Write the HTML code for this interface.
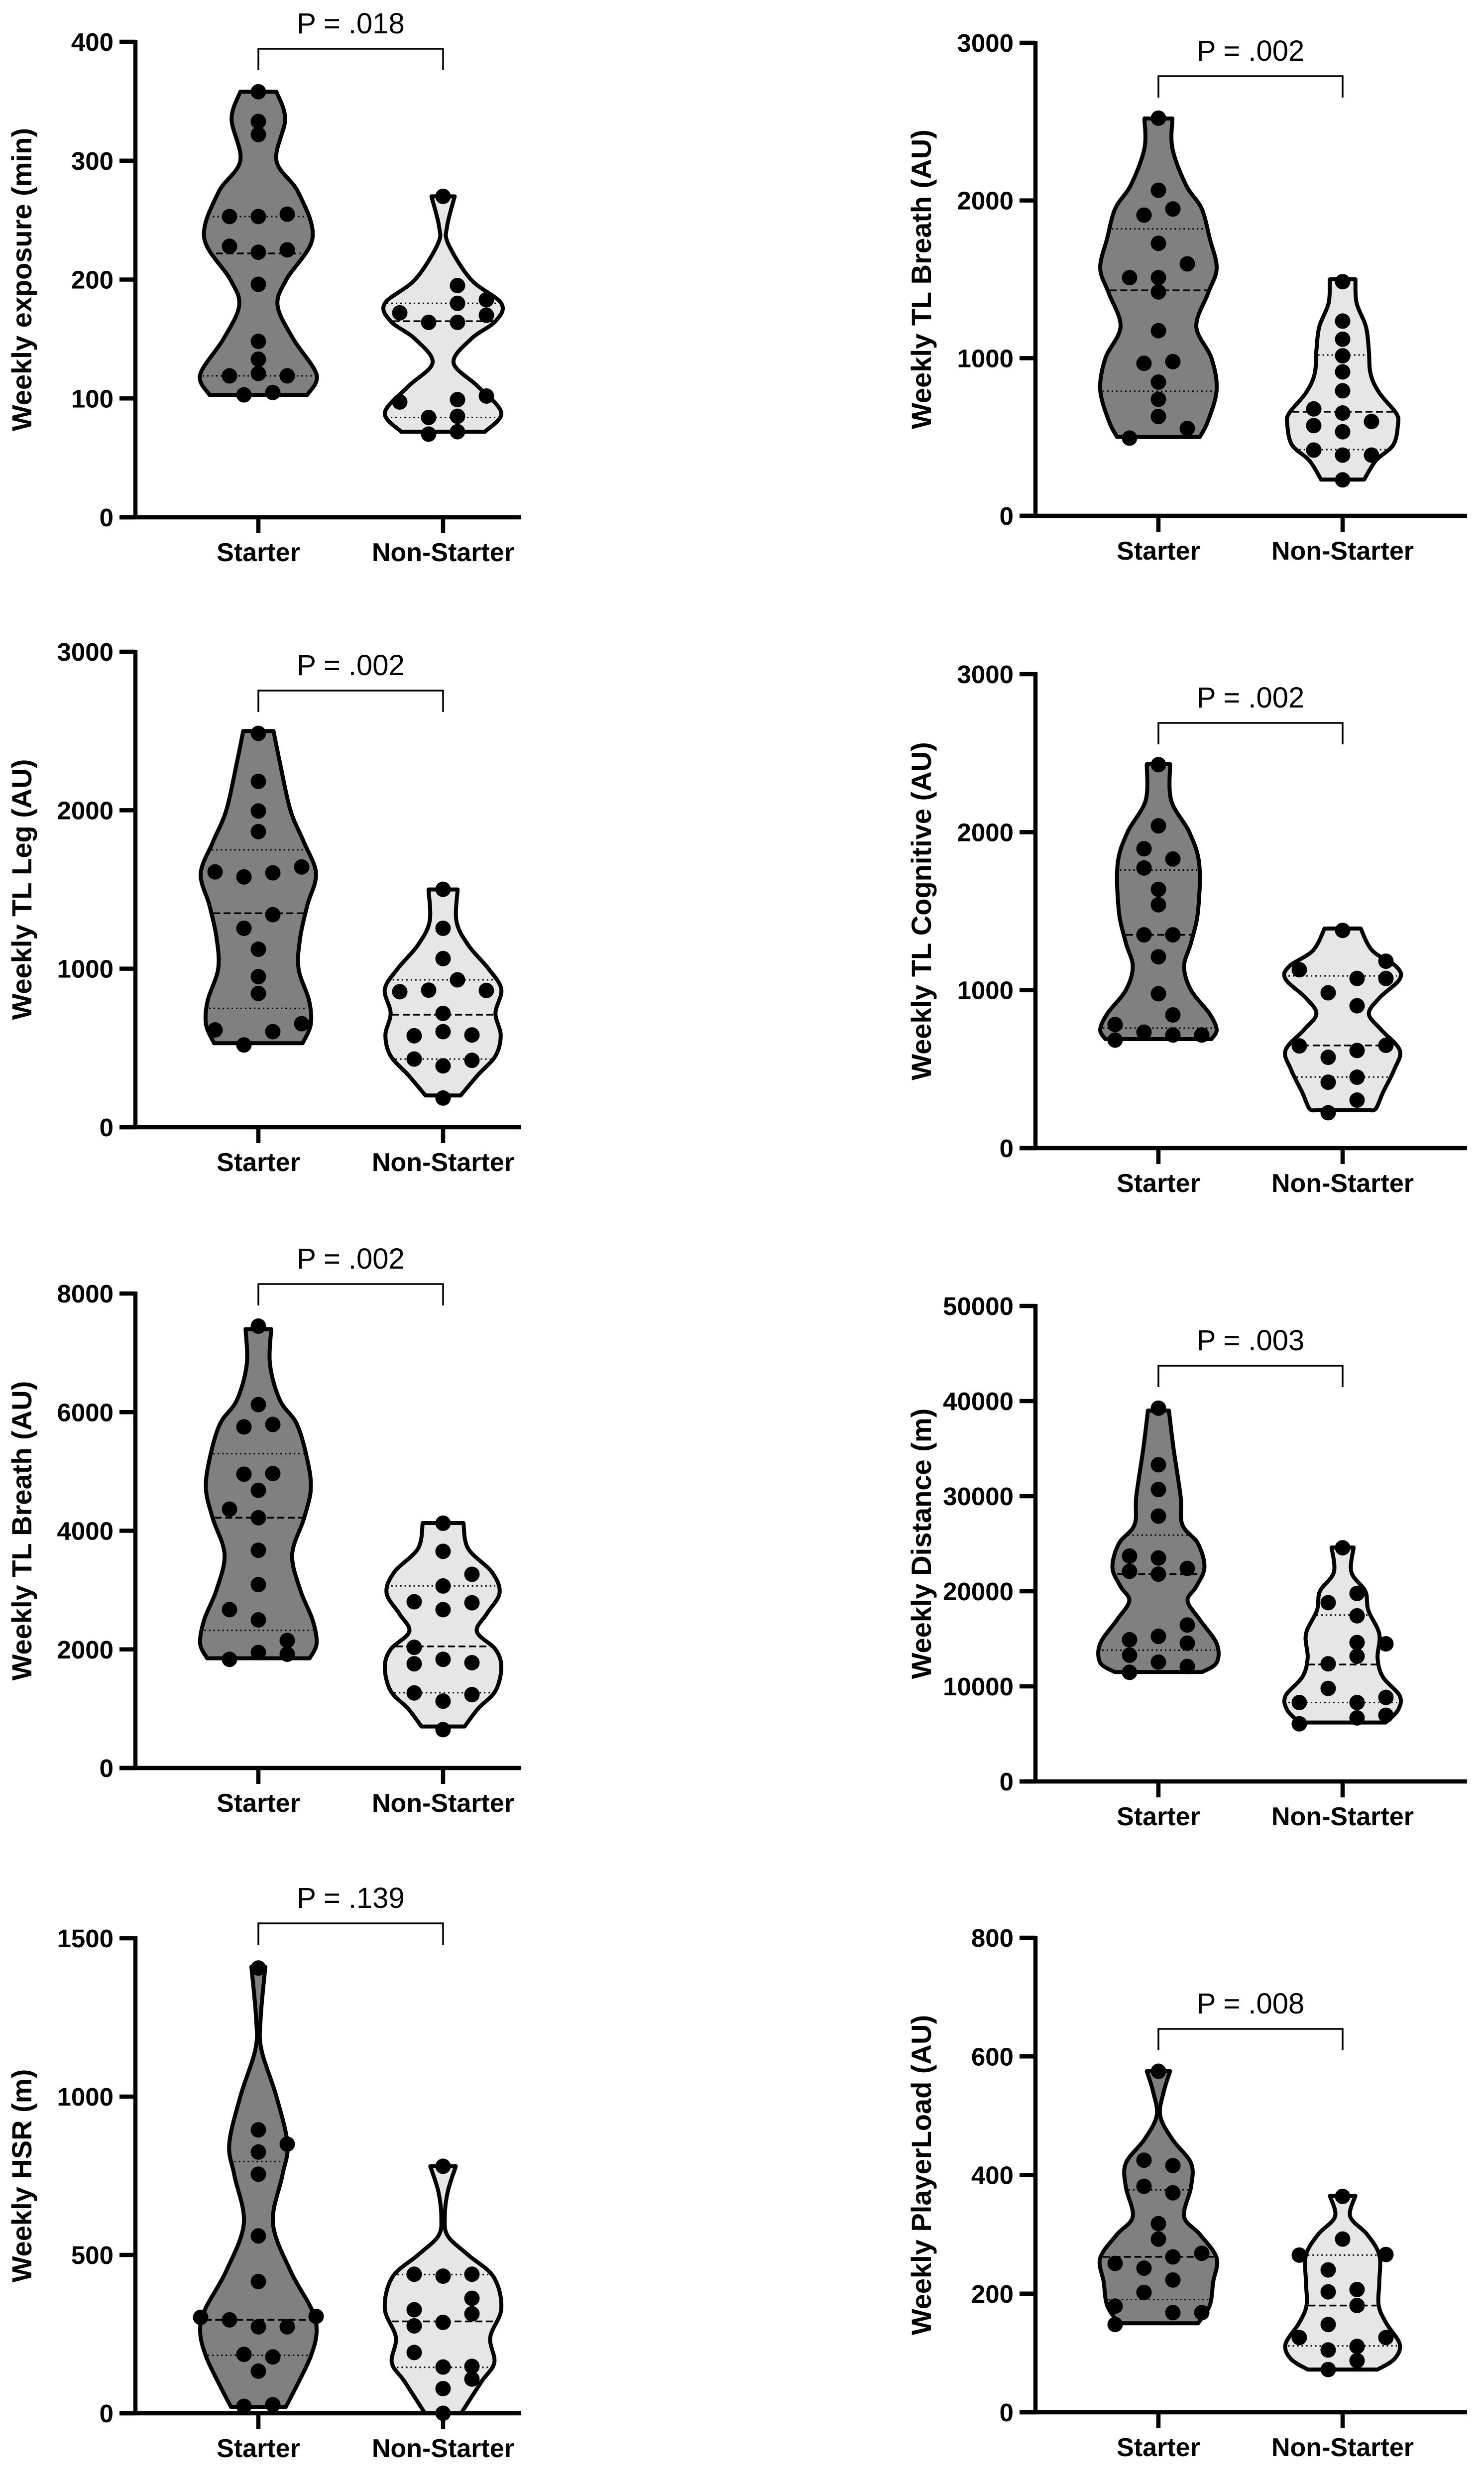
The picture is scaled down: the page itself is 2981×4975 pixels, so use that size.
<!DOCTYPE html>
<html><head><meta charset="utf-8"><title>Starter vs Non-Starter violin plots</title>
<style>html,body{margin:0;padding:0;background:#fff}svg{display:block}</style></head>
<body>
<svg id="chart" xmlns="http://www.w3.org/2000/svg" width="2981" height="4975" viewBox="0 0 2981 4975"></svg>
<script>
// ---------- DATA ----------
const groupLabels = ["Starter", "Non-Starter"];

const exposureTicks = [0, 100, 200, 300, 400];
const exposureStarterPoints = [358,333,322,253,253,255,228,223,225,196,148,133,121,119,119,103,105];
const exposureStarterJitter = [0,0,0,-2,0,2,-2,0,2,0,0,0,0,-2,2,-1,1];
const exposureStarterProfileV = [358,335,300,273,235,200,178,150,120,103];
const exposureStarterProfileW = [0.31,0.46,0.31,0.69,0.93,0.48,0.33,0.6,1.0,0.84];
const exposureStarterQuart = [119,222,253];
const exposureNonPoints = [270,195,183,180,172,170,164,164,102,97,99,84,85,70,72];
const exposureNonJitter = [0,1,3,1,-3,3,-1,1,3,-3,1,-1,1,-1,1];
const exposureNonProfileV = [270,245,230,200,180,165,150,130,110,88,72];
const exposureNonProfileW = [0.2,0.07,0.09,0.48,1.0,0.9,0.48,0.18,0.6,1.0,0.72];
const exposureNonQuart = [84,165,180];

const breathTicks = [0, 1000, 2000, 3000];
const breathStarterPoints = [2522,2065,1907,1946,1728,1598,1511,1511,1420,1174,967,978,848,739,630,554,493];
const breathStarterJitter = [0,0,-1,1,0,2,-2,0,0,0,-1,1,0,0,0,2,-2];
const breathStarterProfileV = [2520,2330,2100,1950,1760,1570,1410,1200,1000,800,600,500];
const breathStarterProfileW = [0.24,0.24,0.47,0.74,0.88,1.0,0.85,0.65,0.91,1.0,0.85,0.71];
const breathStarterQuart = [790,1430,1820];
const breathNonPoints = [1485,1235,1120,1015,913,793,678,652,598,572,533,417,385,385,228];
const breathNonJitter = [0,0,0,0,0,0,-2,0,2,-2,0,-2,0,2,0];
const breathNonProfileV = [1500,1350,1200,1050,900,780,650,580,450,350,230];
const breathNonProfileW = [0.22,0.24,0.4,0.45,0.48,0.63,0.92,0.95,0.87,0.57,0.37];
const breathNonQuart = [420,660,1020];

const legTicks = [0, 1000, 2000, 3000];
const legStarterPoints = [2485,2182,1995,1865,1611,1579,1605,1642,1341,1255,1123,950,844,614,519,603,653];
const legStarterJitter = [0,0,0,0,-3,-1,1,3,1,-1,0,0,0,-3,-1,1,3];
const legStarterProfileV = [2500,2300,2000,1800,1600,1400,1200,1000,800,650,530];
const legStarterProfileW = [0.26,0.37,0.55,0.78,0.99,0.84,0.72,0.69,0.87,0.9,0.76];
const legStarterQuart = [750,1350,1750];
const legNonPoints = [1501,1255,1064,930,865,855,863,718,603,577,582,430,422,387,184];
const legNonJitter = [0,0,0,1,-1,-3,3,0,0,-2,2,-2,2,0,0];
const legNonProfileV = [1500,1300,1150,1000,870,720,580,450,330,200];
const legNonProfileW = [0.25,0.23,0.43,0.78,1.0,0.9,0.99,0.9,0.6,0.3];
const legNonQuart = [430,710,930];

const cognitiveTicks = [0, 1000, 2000, 3000];
const cognitiveStarterPoints = [2427,2040,1895,1830,1773,1638,1540,1350,1350,1211,977,843,782,734,716,716,684];
const cognitiveStarterJitter = [0,0,-1,1,-1,0,0,-1,1,0,0,1,-3,-1,1,3,-3];
const cognitiveStarterProfileV = [2430,2200,2000,1800,1500,1300,1150,1000,850,750,690];
const cognitiveStarterProfileW = [0.2,0.22,0.53,0.7,0.68,0.56,0.44,0.56,0.88,1.0,0.91];
const cognitiveStarterQuart = [760,1350,1760];
const cognitiveNonPoints = [1378,1183,1129,1074,1074,983,901,647,651,618,575,449,417,304,224];
const cognitiveNonJitter = [0,3,-3,1,3,-1,1,-3,3,1,-1,1,-1,1,-1];
const cognitiveNonProfileV = [1390,1250,1150,1070,950,850,750,620,500,350,250,240];
const cognitiveNonProfileW = [0.31,0.51,0.92,0.98,0.63,0.45,0.66,0.98,0.89,0.69,0.57,0.45];
const cognitiveNonQuart = [450,650,1090];

const breath2Ticks = [0, 2000, 4000, 6000, 8000];
const breath2StarterPoints = [7450,6127,5751,5792,4954,4965,4682,4364,4220,3671,3092,2670,2497,2150,1948,1919,1832];
const breath2StarterJitter = [0,0,-1,1,-1,1,0,-2,0,0,0,-2,0,2,0,2,-2];
const breath2StarterProfileV = [7400,6800,6200,5800,5200,4700,4200,3600,3000,2500,2100,1850];
const breath2StarterProfileW = [0.22,0.2,0.37,0.66,0.84,0.9,0.78,0.58,0.72,0.93,1.0,0.88];
const breath2StarterQuart = [2320,4220,5300];
const breath2NonPoints = [4127,3653,3266,3069,2803,2786,2670,2035,1832,1757,1775,1266,1237,1127,647];
const breath2NonJitter = [0,0,2,0,-2,2,0,-2,0,-2,2,-2,2,0,0];
const breath2NonProfileV = [4130,3700,3300,2950,2600,2300,2000,1700,1300,1000,700];
const breath2NonProfileW = [0.35,0.43,0.84,0.97,0.75,0.58,0.9,1.0,0.9,0.6,0.37];
const breath2NonQuart = [1270,2050,3070];

const distanceTicks = [0, 10000, 20000, 30000, 40000, 50000];
const distanceStarterPoints = [39250,33300,30700,27900,23700,23500,22400,22100,21800,16450,15260,14900,14540,13280,12550,12090,11470];
const distanceStarterJitter = [0,0,0,0,-2,0,2,-2,0,2,0,-2,2,-2,0,2,-2];
const distanceStarterProfileV = [39000,35000,30000,27000,25000,22500,20500,19000,17000,14500,12500,11500];
const distanceStarterProfileW = [0.18,0.26,0.38,0.41,0.68,0.79,0.65,0.5,0.71,1.0,1.0,0.75];
const distanceStarterQuart = [13800,21800,25900];
const distanceNonPoints = [24570,19770,18800,17420,14610,14470,13170,12370,9780,8840,8300,8300,6960,6680,6060];
const distanceNonJitter = [0,1,-1,1,1,3,1,-1,-1,3,-3,1,3,1,-3];
const distanceNonProfileV = [24600,22000,20000,18000,15500,13000,11000,9000,7500,6200];
const distanceNonProfileW = [0.19,0.15,0.39,0.44,0.63,0.6,0.69,0.98,0.95,0.74];
const distanceNonQuart = [8300,12300,17500];

const hsrTicks = [0, 500, 1000, 1500];
const hsrStarterPoints = [1406,895,850,825,755,560,416,303,295,273,273,306,186,178,133,22,27];
const hsrStarterJitter = [0,0,2,0,0,0,0,-4,-2,0,2,4,-1,1,0,-1,1];
const hsrStarterProfileV = [1410,1250,1150,1000,850,750,600,450,330,260,180,80,20];
const hsrStarterProfileW = [0.12,0.04,0.05,0.31,0.5,0.41,0.25,0.55,0.91,1.0,0.9,0.64,0.47];
const hsrStarterQuart = [183,295,795];
const hsrNonPoints = [780,439,433,439,363,327,314,276,287,192,146,148,108,78,0];
const hsrNonJitter = [0,-2,0,2,2,-2,2,-2,0,-2,0,2,2,0,0];
const hsrNonProfileV = [780,700,620,560,500,430,330,240,160,100,0];
const hsrNonProfileW = [0.22,0.08,0.03,0.08,0.43,0.87,1.0,0.81,0.88,0.66,0.31];
const hsrNonQuart = [145,290,438];

const loadTicks = [0, 200, 400, 600, 800];
const loadStarterPoints = [575,425,416,381,370,318,292,268,262,251,243,223,202,179,168,168,148];
const loadStarterJitter = [0,-1,1,-1,1,0,0,3,1,-3,-1,1,-1,-3,1,3,-3];
const loadStarterProfileV = [575,540,500,460,420,380,330,300,260,220,180,150];
const loadStarterProfileW = [0.2,0.09,0.03,0.24,0.56,0.56,0.44,0.71,1.0,0.94,0.88,0.68];
const loadStarterQuart = [190,262,375];
const loadNonPoints = [364,292,265,266,240,203,207,180,148,126,126,111,105,87,72];
const loadNonJitter = [0,0,-3,3,-1,-1,1,1,-1,-3,3,1,-1,1,-1];
const loadNonProfileV = [365,330,300,265,220,180,150,115,90,72];
const loadNonProfileW = [0.22,0.13,0.42,0.63,0.63,0.62,0.75,0.98,0.89,0.6];
const loadNonQuart = [112,180,265];

// ---------- LAYOUT ----------
const L = {ax:272, c:[519,890], tx:63, xEnd:1047};
const R = {ax:2080, c:[2327,2697], tx:1870, xEnd:2947};
const panels = [
 {id:'exposure', col:L, top:84, bot:1039, ticks:exposureTicks, title:'Weekly exposure (min)', p:'P = .018', br:98,
  g:[[exposureStarterPoints,exposureStarterJitter,exposureStarterProfileV,exposureStarterProfileW,exposureStarterQuart],[exposureNonPoints,exposureNonJitter,exposureNonProfileV,exposureNonProfileW,exposureNonQuart]]},
 {id:'tl-breath', col:R, top:86, bot:1036, ticks:breathTicks, title:'Weekly TL Breath (AU)', p:'P = .002', br:153,
  g:[[breathStarterPoints,breathStarterJitter,breathStarterProfileV,breathStarterProfileW,breathStarterQuart],[breathNonPoints,breathNonJitter,breathNonProfileV,breathNonProfileW,breathNonQuart]]},
 {id:'tl-leg', col:L, top:1309, bot:2264, ticks:legTicks, title:'Weekly TL Leg (AU)', p:'P = .002', br:1387,
  g:[[legStarterPoints,legStarterJitter,legStarterProfileV,legStarterProfileW,legStarterQuart],[legNonPoints,legNonJitter,legNonProfileV,legNonProfileW,legNonQuart]]},
 {id:'tl-cognitive', col:R, top:1354, bot:2306, ticks:cognitiveTicks, title:'Weekly TL Cognitive (AU)', p:'P = .002', br:1452,
  g:[[cognitiveStarterPoints,cognitiveStarterJitter,cognitiveStarterProfileV,cognitiveStarterProfileW,cognitiveStarterQuart],[cognitiveNonPoints,cognitiveNonJitter,cognitiveNonProfileV,cognitiveNonProfileW,cognitiveNonQuart]]},
 {id:'tl-breath-2', col:L, top:2598, bot:3551, ticks:breath2Ticks, title:'Weekly TL Breath (AU)', p:'P = .002', br:2579,
  g:[[breath2StarterPoints,breath2StarterJitter,breath2StarterProfileV,breath2StarterProfileW,breath2StarterQuart],[breath2NonPoints,breath2NonJitter,breath2NonProfileV,breath2NonProfileW,breath2NonQuart]]},
 {id:'distance', col:R, top:2623, bot:3578, ticks:distanceTicks, title:'Weekly Distance (m)', p:'P = .003', br:2743,
  g:[[distanceStarterPoints,distanceStarterJitter,distanceStarterProfileV,distanceStarterProfileW,distanceStarterQuart],[distanceNonPoints,distanceNonJitter,distanceNonProfileV,distanceNonProfileW,distanceNonQuart]]},
 {id:'hsr', col:L, top:3893, bot:4847, ticks:hsrTicks, title:'Weekly HSR (m)', p:'P = .139', br:3863,
  g:[[hsrStarterPoints,hsrStarterJitter,hsrStarterProfileV,hsrStarterProfileW,hsrStarterQuart],[hsrNonPoints,hsrNonJitter,hsrNonProfileV,hsrNonProfileW,hsrNonQuart]]},
 {id:'playerload', col:R, top:3892, bot:4845, ticks:loadTicks, title:'Weekly PlayerLoad (AU)', p:'P = .008', br:4075,
  g:[[loadStarterPoints,loadStarterJitter,loadStarterProfileV,loadStarterProfileW,loadStarterQuart],[loadNonPoints,loadNonJitter,loadNonProfileV,loadNonProfileW,loadNonQuart]]}
];
const HALF = 117, JIT = 29, FILLS = ['#808080', '#e6e6e6'];
const NS = 'http://www.w3.org/2000/svg';
const svg = document.getElementById('chart');

function mk(tag, attrs, parent) {
  const e = document.createElementNS(NS, tag);
  for (const k in attrs) e.setAttribute(k, attrs[k]);
  parent.appendChild(e);
  return e;
}
function crPath(pts) {
  let d = '';
  for (let i = 0; i < pts.length - 1; i++) {
    const p0 = pts[i-1] || pts[i], p1 = pts[i], p2 = pts[i+1], p3 = pts[i+2] || p2;
    const c1 = [p1[0] + (p2[0]-p0[0])/6, p1[1] + (p2[1]-p0[1])/6];
    const c2 = [p2[0] - (p3[0]-p1[0])/6, p2[1] - (p3[1]-p1[1])/6];
    d += ' C' + c1[0].toFixed(1) + ',' + c1[1].toFixed(1) + ' ' + c2[0].toFixed(1) + ',' + c2[1].toFixed(1) + ' ' + p2[0].toFixed(1) + ',' + p2[1].toFixed(1);
  }
  return d;
}
function widthAt(pv, pw, v) {
  if (v >= pv[0]) return pw[0];
  for (let i = 0; i < pv.length - 1; i++) {
    if (v <= pv[i] && v >= pv[i+1]) {
      const t = (pv[i] - v) / (pv[i] - pv[i+1]);
      return pw[i] + t * (pw[i+1] - pw[i]);
    }
  }
  return pw[pw.length - 1];
}

panels.forEach(P => {
  const col = P.col;
  const maxV = P.ticks[P.ticks.length - 1];
  const y = v => P.bot - (v / maxV) * (P.bot - P.top);
  const g = mk('g', {}, svg);
  
  

  P.g.forEach((grp, gi) => {
    const [pts, jit, pv, pw, q] = grp;
    const c = col.c[gi];
    const right = pv.map((v, i) => [c + pw[i]*HALF, y(v)]);
    const left = pv.map((v, i) => [c - pw[i]*HALF, y(v)]).reverse();
    let d = 'M' + left[left.length-1][0].toFixed(1) + ',' + left[left.length-1][1].toFixed(1);
    d += ' L' + right[0][0].toFixed(1) + ',' + right[0][1].toFixed(1) + crPath(right);
    d += ' L' + left[0][0].toFixed(1) + ',' + left[0][1].toFixed(1) + crPath(left) + ' Z';
    const vp = mk('path', {d: d, fill: FILLS[gi], stroke: '#000', 'stroke-width': 8, 'stroke-linejoin': 'round'}, g);
    
    
    q.forEach((qv, qi) => {
      const w = widthAt(pv, pw, qv) * HALF - 4;
      const ln = mk('line', {x1: c - w, x2: c + w, y1: y(qv), y2: y(qv), stroke: '#000', 'stroke-width': qi === 1 ? 3.5 : 3,
        'stroke-dasharray': qi === 1 ? '14 7' : '3 6'}, g);
      
      
    });
    pts.forEach((v, i) => {
      const dot = mk('circle', {cx: c + jit[i]*JIT, cy: y(v), r: 15.5, fill: '#000'}, g);
      
      
    });
  });

  const ya = mk('line', {x1: col.ax, x2: col.ax, y1: P.top - 4, y2: P.bot + 4, stroke: '#000', 'stroke-width': 8.5}, g);
  
  
  const xa = mk('line', {x1: col.ax - 32, x2: col.xEnd, y1: P.bot, y2: P.bot, stroke: '#000', 'stroke-width': 8.5}, g);
  
  
  P.ticks.forEach(t => {
    const tk = mk('line', {x1: col.ax - 32, x2: col.ax, y1: y(t), y2: y(t), stroke: '#000', 'stroke-width': 8.5}, g);
    
    
    const tl = mk('text', {x: col.ax - 44, y: y(t) + 18, 'text-anchor': 'end', 'font-family': 'Liberation Sans, sans-serif', 'font-weight': 'bold', 'font-size': 51}, g);
    tl.textContent = t;
    
    
  });
  col.c.forEach((c, gi) => {
    const tk = mk('line', {x1: c, x2: c, y1: P.bot, y2: P.bot + 32, stroke: '#000', 'stroke-width': 8.5}, g);
    
    
    const xl = mk('text', {x: c, y: P.bot + 88, 'text-anchor': 'middle', 'font-family': 'Liberation Sans, sans-serif', 'font-weight': 'bold', 'font-size': 52}, g);
    xl.textContent = groupLabels[gi];
    
    
  });
  const my = (P.top + P.bot) / 2;
  const tt = mk('text', {x: col.tx, y: my, 'text-anchor': 'middle', transform: 'rotate(-90 ' + col.tx + ' ' + my + ')', 'font-family': 'Liberation Sans, sans-serif', 'font-weight': 'bold', 'font-size': 56}, g);
  tt.textContent = P.title;
  
  

  const c0 = col.c[0], c1 = col.c[1];
  const br = mk('path', {d: 'M' + c0 + ',' + (P.br + 43) + ' V' + P.br + ' H' + c1 + ' V' + (P.br + 43), fill: 'none', stroke: '#000', 'stroke-width': 3.5}, g);
  
  
  const pt = mk('text', {x: (c0 + c1) / 2, y: P.br - 31, 'text-anchor': 'middle', 'font-family': 'Liberation Sans, sans-serif', 'font-size': 58}, g);
  pt.textContent = P.p;
  
  
});
</script>
</body></html>
